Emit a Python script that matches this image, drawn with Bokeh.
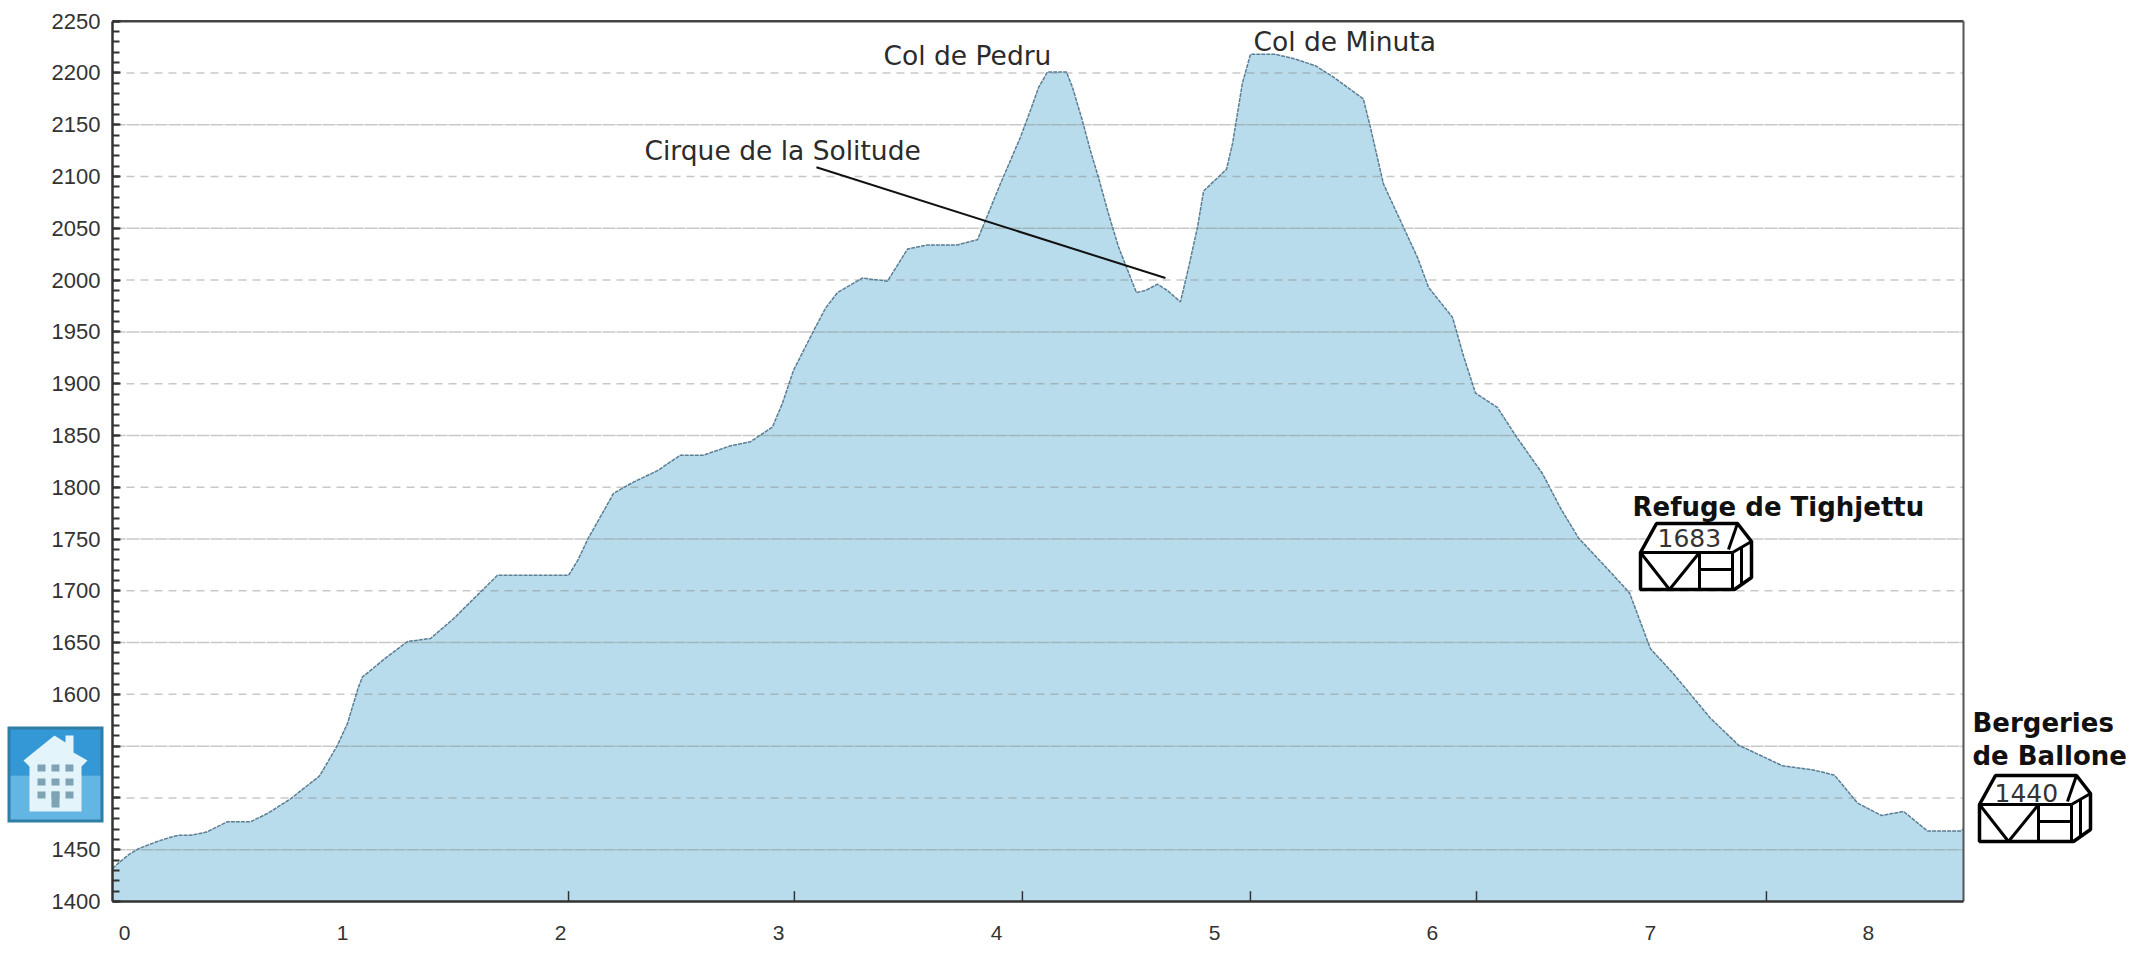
from bokeh.plotting import figure
from bokeh.embed import file_html
from bokeh.resources import INLINE
from bokeh.models import FixedTicker, Label, PolyAnnotation, Range1d

# ---- data ----
distance_km = [-0.055, -0.028, 0.018, 0.064, 0.151, 0.211, 0.248, 0.303, 0.376, 0.472, 0.578, 0.656, 0.761, 0.821,
               0.894, 0.936, 0.977, 1.023, 1.073, 1.092, 1.128, 1.197, 1.298, 1.404, 1.509, 1.711, 2.037, 2.078,
               2.128, 2.206, 2.243, 2.335, 2.445, 2.550, 2.656, 2.780, 2.872, 2.972, 3.018, 3.069, 3.161, 3.216,
               3.271, 3.385, 3.500, 3.592, 3.683, 3.821, 3.913, 3.950, 4.018, 4.110, 4.156, 4.193, 4.234, 4.321,
               4.349, 4.394, 4.431, 4.468, 4.514, 4.560, 4.642, 4.683, 4.739, 4.784, 4.844, 4.881, 4.922, 4.950,
               5.055, 5.083, 5.128, 5.165, 5.280, 5.362, 5.463, 5.546, 5.683, 5.716, 5.775, 5.821, 5.931, 5.982,
               6.092, 6.142, 6.197, 6.298, 6.381, 6.505, 6.587, 6.670, 6.817, 6.904, 7.000, 7.101, 7.275, 7.404,
               7.606, 7.748, 7.844, 7.950, 8.060, 8.161, 8.271, 8.422, 8.436]
elevation_m = [1432, 1437, 1445, 1451, 1458, 1462, 1464, 1464, 1467, 1477, 1477, 1485, 1499, 1509,
               1521, 1536, 1551, 1572, 1607, 1617, 1623, 1635, 1651, 1654, 1673, 1715, 1715, 1729,
               1751, 1780, 1794, 1805, 1816, 1831, 1831, 1840, 1844, 1858, 1881, 1913, 1951, 1973,
               1988, 2002, 1999, 2030, 2034, 2034, 2039, 2058, 2093, 2138, 2164, 2186, 2201, 2201,
               2186, 2154, 2125, 2099, 2064, 2032, 1988, 1990, 1996, 1990, 1979, 2012, 2051, 2086,
               2107, 2132, 2190, 2218, 2218, 2214, 2207, 2196, 2175, 2147, 2093, 2072, 2022, 1993,
               1964, 1927, 1891, 1877, 1850, 1813, 1780, 1751, 1718, 1698, 1644, 1621, 1577, 1551,
               1531, 1527, 1522, 1495, 1483, 1487, 1468, 1468, 1470]
y_major = list(range(1400, 2251, 50))
y_minor = list(range(1400, 2251, 10))
y_hidden_labels = [1500, 1550]
grid_dashed = [1500, 1600, 1700, 1800, 1900, 2000, 2100, 2200]
grid_dense = [1450, 1550, 1650, 1750, 1850, 1950, 2050, 2150]
x_labels = [0, 1, 2, 3, 4, 5, 6, 7, 8]
x_tick_marks = [2.037, 3.073, 4.119, 5.165, 6.202, 7.532]
leader_km = [3.174, 4.775]
leader_m = [2109, 2002]

X0, X1 = -0.055, 8.436
Y0, Y1 = 1400, 2250

# the plot frame fills the page so that the huts and the icon beside the axes are kept
W, H = 2130, 947
p = figure(width=W, height=H, output_backend="svg", toolbar_location=None,
           x_range=Range1d(X0 - 112 / 218, X1 + (W - 1963) / 218),
           y_range=Range1d(Y0 - (H - 901) / 1.0356, Y1 + 20.7 / 1.0356),
           min_border_left=0, min_border_right=0, min_border_top=0, min_border_bottom=0,
           background_fill_color="white", border_fill_color="white")
p.grid.visible = False
p.outline_line_color = None

AXIS = "#333333"
yax = p.yaxis[0]
yax.fixed_location = X0
yax.bounds = (Y0, Y1)
yax.ticker = FixedTicker(ticks=y_major, minor_ticks=y_minor)
yax.major_label_overrides = {v: "" for v in y_hidden_labels}
yax.major_tick_in, yax.major_tick_out = 8, 0
yax.minor_tick_in, yax.minor_tick_out = 7, 0
yax.major_tick_line_color = AXIS
yax.minor_tick_line_color = AXIS
yax.major_tick_line_width = 2
yax.minor_tick_line_width = 2
yax.axis_line_color = AXIS
yax.axis_line_width = 2.5
yax.major_label_text_font = "Liberation Sans"
yax.major_label_text_font_size = "22px"
yax.major_label_text_color = "#333333"
yax.major_label_standoff = 12

xax = p.xaxis[0]
xax.fixed_location = Y0
xax.bounds = (X0, X1)
xax.ticker = FixedTicker(ticks=x_labels, minor_ticks=[])
xax.major_tick_in, xax.major_tick_out = 0, 0
xax.minor_tick_in, xax.minor_tick_out = 0, 0
xax.axis_line_color = AXIS
xax.axis_line_width = 2.5
xax.major_label_text_font = "Liberation Sans"
xax.major_label_text_font_size = "21px"
xax.major_label_text_color = "#333333"
xax.major_label_standoff = 25

p.varea(distance_km, [Y0] * len(distance_km), elevation_m, fill_color="#b8dcec")
for ticks, dash in ((grid_dashed, "8 6"), (grid_dense, "13 1")):
    p.segment([X0] * len(ticks), ticks, [X1] * len(ticks), ticks, line_color="#868686",
              line_alpha=0.45, line_width=1.5, line_dash=dash)
p.line(distance_km, elevation_m, line_color="#5b7e94", line_width=1.5, line_dash="4 1")
p.segment(x_tick_marks, [Y0] * len(x_tick_marks), x_tick_marks, [Y0 + 10] * len(x_tick_marks),
          line_color="#333333", line_width=1.5)
p.line(leader_km, leader_m, line_color="#111111", line_width=2)
p.line([X0, X1], [Y1, Y1], line_color="#444444", line_width=2.5)
p.line([X1, X1], [Y0, Y1], line_color="#555555", line_width=2)


def poly(points, fill=None, line="black", width=2.5):
    a = PolyAnnotation(xs=[q[0] for q in points], ys=[q[1] for q in points],
                       xs_units="canvas", ys_units="canvas")
    a.fill_color = fill
    a.fill_alpha = 1 if fill else 0
    a.line_color = line
    a.line_alpha = 1 if line else 0
    a.line_width = width
    p.add_layout(a)


def label(px, py, text, size, color="#2b2b2b", bold=False, font="DejaVu Sans"):
    p.add_layout(Label(x=px, y=py, x_units="canvas", y_units="canvas", text=text, text_font=font,
                       text_font_size=f"{size}px", text_color=color,
                       text_font_style="bold" if bold else "normal",
                       text_baseline="middle"))


def hut(ox, oy):
    outline = [(0, 29), (16, 0), (97, 0), (111, 18), (111, 54), (94, 66), (0, 66)]
    poly([(ox + a, oy + b) for a, b in outline], fill="white", width=3.5)
    parts = [[(0, 29), (92, 29)], [(92, 29), (92, 66)], [(59, 29), (59, 66)], [(59, 46), (92, 46)],
             [(0, 29), (29, 66)], [(29, 66), (59, 29)], [(97, 0), (88, 26)], [(92, 29), (111, 18)],
             [(101, 24), (101, 60)]]
    for part in parts:
        poly([(ox + a, oy + b) for a, b in part], width=3)


label(883, 55, "Col de Pedru", 26.5)
label(644, 150, "Cirque de la Solitude", 26.5)
label(1253, 41, "Col de Minuta", 26.5)
label(1632, 506, "Refuge de Tighjettu", 26, "#111111", True)
label(1972, 722, "Bergeries", 26, "#111111", True)
label(1972, 755, "de Ballone", 26, "#111111", True)

hut(1640, 523)
label(1657, 537, "1683", 25, "#333333")
hut(1979, 775)
label(1994, 792, "1440", 25, "#333333")

# house icon over the left axis
poly([(7, 726), (103, 726), (103, 822), (7, 822)], fill="#2f7ea6", line=None)
poly([(10, 729), (100, 729), (100, 775), (10, 775)], fill="#3498d6", line=None)
poly([(10, 775), (100, 775), (100, 819), (10, 819)], fill="#63b5e3", line=None)
poly([(54, 735), (65, 742), (65, 735), (73, 735), (73, 752), (87, 760), (81, 766), (81, 811),
      (29, 811), (29, 766), (23, 760)], fill="#e4f4fb", line=None)
for wx in (37, 51, 65):
    for wy in (764, 778, 791):
        poly([(wx, wy), (wx + 8, wy), (wx + 8, wy + 7), (wx, wy + 7)], fill="#7ea3b4", line=None)
poly([(51, 791), (59, 791), (59, 807), (51, 807)], fill="#7ea3b4", line=None)

open("out.html", "w").write(file_html(p, INLINE))
